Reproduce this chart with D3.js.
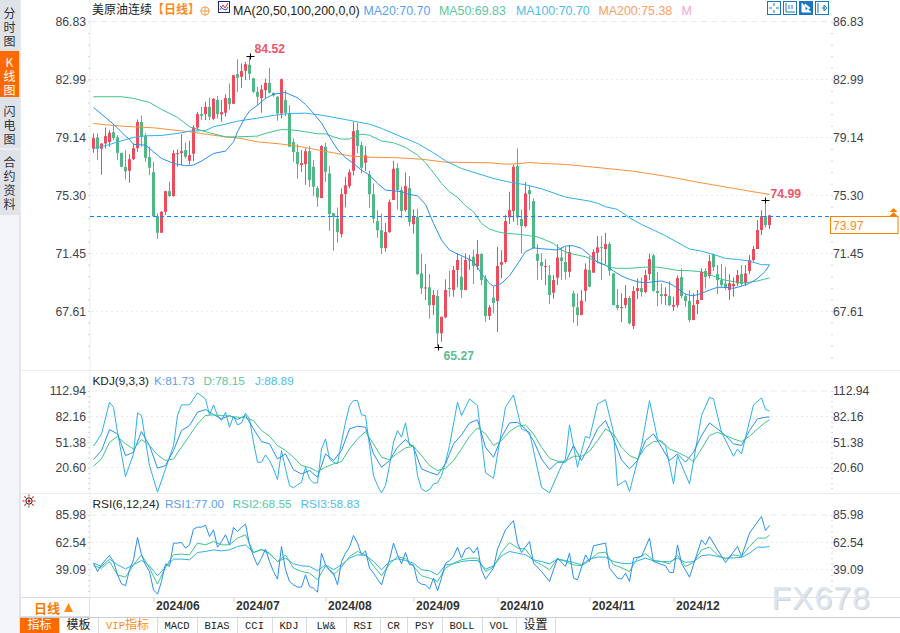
<!DOCTYPE html>
<html>
<head>
<meta charset="utf-8">
<title>美原油连续</title>
<script src="https://cdnjs.cloudflare.com/ajax/libs/d3/7.8.5/d3.min.js"></script>
<style>
body { margin: 0; background: #fff; }
svg { display: block; }
text { font-family: "Liberation Sans", Arial, sans-serif; }
.cjk { font-family: "Noto Sans CJK SC", sans-serif; }
.mono { font-family: "Liberation Mono", monospace; }
</style>
</head>
<body>
<svg id="chart" width="900" height="633"></svg>
<script>
var openVals = [78.39,79.14,78.39,78.74,78.83,79.49,79.14,78.12,77.19,76.93,77.70,78.43,80.16,79.23,77.84,76.84,73.92,72.82,74.21,75.58,75.25,78.06,78.10,78.30,77.59,78.06,79.80,80.69,80.69,81.17,80.38,81.62,80.66,80.78,81.75,81.37,83.34,83.16,83.56,83.96,83.07,82.17,81.75,82.28,82.76,82.10,81.84,80.73,81.62,80.73,78.83,78.17,77.31,77.37,78.23,77.20,75.78,75.12,78.52,76.75,74.12,73.75,72.73,75.38,75.91,76.93,79.63,78.63,77.46,76.66,75.38,73.59,72.99,71.80,72.86,74.99,77.11,75.65,74.32,75.78,73.39,73.88,70.12,69.15,69.20,68.02,68.62,66.15,67.21,69.15,69.02,70.35,69.90,69.02,71.01,71.23,70.61,71.41,69.79,67.30,68.51,68.29,70.70,70.88,73.84,74.26,77.24,73.73,73.26,75.65,74.92,71.41,70.88,70.57,70.01,68.84,69.84,71.18,70.88,70.23,68.80,67.87,67.36,68.97,70.35,70.17,71.49,71.87,71.74,72.07,70.12,68.02,67.85,68.02,68.49,66.63,68.95,69.15,68.89,70.08,71.32,68.95,68.75,68.62,68.62,67.91,68.02,69.88,68.62,68.29,67.03,68.09,68.36,70.28,69.95,71.38,70.08,69.68,69.46,69.02,69.28,69.46,70.08,69.46,70.28,71.01,71.74,73.00,73.92,73.33];
var highVals = [79.41,79.41,78.74,79.80,79.63,80.02,79.29,78.12,78.30,78.03,78.74,80.33,80.60,79.41,78.52,77.53,74.10,74.26,75.60,76.20,78.30,78.34,79.36,78.81,78.92,79.96,80.84,81.17,81.50,81.77,81.75,81.88,81.62,82.01,82.72,83.27,84.33,84.05,84.16,84.52,83.07,82.50,82.61,83.05,83.76,82.10,81.88,83.05,82.28,81.28,79.07,78.70,78.30,78.41,78.57,77.64,75.91,78.63,78.79,77.24,74.12,74.50,75.76,76.53,77.02,80.18,80.11,78.85,78.57,76.93,76.09,74.32,74.10,73.48,75.03,77.59,77.42,75.87,76.82,76.58,74.37,74.41,71.41,70.74,70.08,69.02,69.02,67.25,69.73,70.30,70.61,71.45,71.23,71.45,71.34,71.72,72.33,71.45,70.01,68.02,69.28,71.89,71.67,74.01,75.54,77.35,78.41,74.37,76.18,75.91,75.10,72.05,71.45,71.05,70.68,70.01,72.05,71.85,71.89,72.02,68.97,68.80,69.02,70.79,71.27,71.72,72.60,72.60,72.82,72.20,70.12,69.09,68.80,69.35,68.62,69.28,69.79,69.86,70.35,71.45,71.41,70.23,69.46,69.20,69.61,68.58,69.99,70.46,68.80,69.02,68.80,69.02,70.46,70.46,71.34,71.45,70.68,70.74,70.57,70.08,69.86,70.35,70.68,70.68,71.34,71.94,73.66,74.32,74.99,74.00];
var lowVals = [78.12,77.64,76.66,78.41,78.52,78.96,77.64,77.19,76.36,76.13,77.64,78.19,78.52,77.53,76.64,73.92,72.42,72.82,73.99,75.21,75.21,77.19,77.31,77.75,77.35,77.57,79.63,80.29,80.29,80.29,80.29,80.40,80.18,80.51,80.98,81.37,82.17,82.43,82.94,82.94,82.10,81.28,80.78,81.73,82.06,81.84,80.25,80.40,80.55,78.52,77.53,76.40,76.86,76.00,75.87,75.27,74.54,75.12,76.20,72.95,71.63,72.16,72.51,74.50,75.78,76.62,78.08,76.75,76.93,74.45,73.44,72.49,71.41,71.56,72.82,74.99,74.37,73.79,74.21,73.26,72.77,70.01,68.75,68.35,67.12,67.36,65.27,65.59,67.16,68.58,68.58,69.20,68.49,69.02,70.35,69.42,70.35,69.35,66.90,67.03,67.47,66.23,69.81,70.79,73.39,73.55,73.33,71.45,73.17,74.32,71.78,69.68,69.68,69.35,68.09,68.44,69.35,69.68,69.73,69.86,66.85,66.63,67.36,68.25,69.20,70.17,70.79,69.68,70.74,69.95,68.02,67.69,66.90,67.80,66.74,66.43,68.42,68.58,68.80,69.68,68.91,67.96,68.07,68.02,67.96,67.63,67.85,68.47,67.91,66.90,67.03,67.43,68.36,69.11,69.79,70.28,68.75,69.20,69.02,68.36,68.58,69.28,69.28,69.28,70.08,70.90,71.74,72.67,73.17,73.06];
var closeVals = [79.10,78.39,78.74,79.23,79.45,79.10,78.12,77.19,76.89,77.70,78.43,80.16,79.18,77.79,77.13,73.92,72.82,74.21,75.58,75.25,78.10,78.10,78.23,77.86,77.97,79.80,80.69,80.58,81.17,80.51,81.70,80.69,80.82,81.75,81.35,83.27,83.10,83.54,84.00,83.36,82.17,81.84,82.32,82.76,82.10,81.92,80.73,83.00,80.78,78.52,78.17,77.37,77.44,78.23,76.31,75.87,75.16,78.57,76.86,74.06,73.84,72.86,75.38,75.96,76.84,79.56,78.57,77.13,77.95,75.38,73.75,72.99,71.80,72.86,74.85,77.06,75.65,74.26,75.91,73.53,73.90,70.08,69.13,69.19,68.02,68.69,66.15,67.25,69.02,69.11,70.35,71.01,69.02,71.01,71.05,70.61,71.41,69.68,67.30,67.87,68.16,70.61,70.88,73.59,74.32,77.20,73.84,73.26,75.43,75.38,71.78,70.96,70.61,70.61,68.69,69.68,71.18,70.94,70.23,71.54,67.91,67.36,68.31,70.39,69.24,71.54,71.85,71.83,72.07,70.30,68.02,67.83,67.89,68.49,66.81,68.95,69.15,68.89,70.01,71.07,68.97,68.82,68.62,68.75,68.02,68.02,69.81,68.62,68.29,67.03,68.02,68.36,70.21,69.88,70.94,70.54,69.68,69.35,69.15,69.48,69.42,70.01,69.42,70.12,71.01,71.74,73.00,73.92,73.33,73.97];

var ma20Idx = [0,5,8,9,10,13,15,17,20,23,25,27,30,33,35,36,38,39,41,43,45,48,51,53,55,57,59,61,63,65,67,69,71,73,75,77,79,81,83,85,87,89,91,93,95,97,99,100,102,104,106,108,110,112,114,116,118,120,122,124,126,128,130,132,134,136,138,140,142,144,146,148,150,152,154,156,158,160,162,164,166,168,169];
var ma20Vals = [81.13,80.02,79.23,79.01,78.68,78.63,78.19,77.75,77.42,77.26,77.31,77.57,78.08,78.23,78.85,79.52,80.51,80.89,81.28,81.73,82.01,82.12,81.77,81.33,80.73,80.10,79.18,78.34,77.79,77.42,76.97,76.64,76.09,75.65,75.60,75.54,75.36,75.27,74.70,73.44,72.33,71.67,71.41,71.18,70.90,70.12,69.46,69.28,69.46,69.97,70.74,71.56,71.82,71.76,71.72,71.67,71.94,71.96,71.78,71.34,70.85,70.68,70.28,69.95,69.73,69.57,69.50,69.57,69.62,69.46,69.15,68.73,68.64,68.80,69.02,69.20,69.20,69.13,69.28,69.46,69.79,70.28,70.70];
var ma50Idx = [0,7,10,14,17,21,24,27,29,33,36,41,43,47,50,53,56,58,60,62,64,65,67,69,72,75,78,81,83,85,87,89,91,93,95,97,99,101,103,106,109,111,113,115,117,119,121,123,125,127,129,131,134,137,140,143,146,149,152,155,157,160,163,166,169];
var ma50Vals = [81.84,81.84,81.73,81.46,81.00,80.47,79.85,79.60,79.45,79.18,79.18,79.23,79.41,79.67,79.63,79.52,79.38,79.38,79.18,79.03,79.03,79.18,79.36,79.29,78.90,78.79,78.48,77.97,77.46,76.80,76.09,75.54,75.16,74.61,74.21,73.44,73.06,72.89,72.77,72.73,72.62,72.55,72.33,72.11,71.67,71.45,71.34,71.23,71.01,70.79,70.52,70.46,70.46,70.52,70.57,70.46,70.32,70.30,70.23,69.95,69.73,69.57,69.50,69.62,69.83];
var ma100Idx = [0,3,7,10,13,17,22,24,28,30,33,36,41,45,49,53,57,60,63,65,69,72,76,81,85,88,92,96,100,104,108,112,118,124,126,128,131,134,137,140,143,146,149,152,155,158,161,164,167,169];
var ma100Vals = [78.41,78.59,78.92,79.14,79.25,79.27,79.45,79.56,79.60,79.85,80.02,80.22,80.42,80.60,80.73,80.75,80.62,80.47,80.33,80.22,80.02,79.74,79.29,78.74,78.12,77.59,77.08,76.75,76.42,76.18,76.00,75.74,75.18,74.92,74.78,74.54,74.37,73.81,73.37,73.00,72.62,72.18,71.74,71.60,71.38,71.12,71.05,70.94,70.70,70.70];
var ma200Idx = [0,3,8,15,20,24,28,33,37,41,47,52,57,60,64,68,76,82,88,99,103,106,109,112,118,127,135,143,152,160,169];
var ma200Vals = [80.07,79.98,79.87,79.78,79.63,79.52,79.36,79.18,79.07,78.85,78.70,78.52,78.26,78.12,77.92,77.84,77.79,77.70,77.50,77.46,77.37,77.39,77.48,77.42,77.35,77.12,76.90,76.57,76.13,75.76,75.36];

// k, d and the slower rsi lines are read every second candle
var oscIdx = d3.range(0, 170, 2).concat([169]);
var kVals = [30.4,41.2,66.5,61.3,35.2,39.2,64.1,47.3,20,23.2,41.2,65.3,71.3,87.4,90.6,84.6,79.4,83.4,78.6,83.4,67.3,52.1,49.3,31.2,37.2,18,13.1,17.2,9.1,37.2,29.2,41.2,67.3,70.5,69.3,37.2,21.2,29.2,45.3,54.5,45.3,19.2,15.1,11.9,25.2,49.3,60.1,74.5,78.2,45.3,33.2,57.3,74.5,75.3,67.3,53.3,31.2,18.4,27.2,27.2,47.3,29.2,47.3,67.3,77.3,55.3,30,19.2,29.2,53.3,61.3,45.3,29.2,37.2,27.2,39.2,59.3,74.5,67.3,59.3,49.3,47.3,65.3,79.4,81.4,81.73];
var dVals = [22.4,31.2,51.3,58.1,49.3,43.2,54.5,47.3,36,29.2,31.2,45.3,59.3,73.3,83.4,84.2,83.4,82.6,81.4,80.6,77.3,65.3,58.5,47.3,41.2,33.2,23.2,20.8,15.9,21.2,25.2,28,43.2,55.3,64.1,49.3,33.2,30.4,38,44.4,46.4,35.2,23.2,17.2,20,29.2,43.2,58.5,68.5,61.3,47.3,53.3,64.1,70.5,72.1,61.3,45.3,32,28.4,28.4,34.4,34.4,40.4,53.3,67.3,61.3,45.3,35.2,31.2,45.3,52.1,52.9,43.2,39.2,34.4,28,43.2,59.3,63.3,59.3,55.3,52.1,58.5,67.3,75.3,78.15];
var rsi2Vals = [42.1,40.1,45.8,34.3,32.3,43,51.6,40.1,26.3,41,51.6,52.2,51.6,61.7,60.2,63.1,60.2,60.2,66,68.9,53.6,56.5,53,45.8,51.6,40.1,37.2,35.8,30,42.1,34.3,41,50.2,54.5,51.6,42.1,33.5,43.8,50.2,48.2,41.6,33.5,31.5,28.6,40.1,44.4,47.3,48.7,48.7,37.2,41,53.9,62.2,57.4,56.5,46.7,43,38.7,48.2,45.8,43,42.1,46.7,53,53.9,43,40.4,37.2,48.7,52.5,46.7,45.8,43.8,51,41.6,45,55.9,58.2,51.6,47.9,51.6,50.2,58.8,66,66,68.55];
var rsi3Vals = [44.4,41.6,47.9,43,39.5,43,46.7,42.1,33.5,41,47.9,47.9,47.3,53.6,54.5,55.9,55,55.9,58.8,60.2,53.6,55.9,52.5,45.8,48.7,43.8,42.1,41.6,37.8,43,38.7,43,48.7,51.6,51,45.8,38.7,45.8,48.2,46.7,44.4,38.7,37.8,34.3,43,43.8,45.8,46.7,46.7,39.2,42.1,50.7,54.5,53,51.6,47.3,45.8,43.8,47.9,46.7,45,43,47.9,49.6,49.6,45.8,44.4,43.8,46.4,48.7,46.4,45.8,45.6,48.7,45,45.8,50.7,51.6,50.2,48.7,49,49.3,53,58.2,58.2,58.83];

// the jagged lines keep their own candle numbers
var jIdx = [0,2,4,5,6,8,10,11,12,14,16,18,20,21,22,24,26,28,29,30,31,32,33,34,35,36,37,38,39,40,41,42,43,44,45,46,47,48,49,50,51,52,53,54,55,56,57,58,59,60,61,62,63,64,65,66,67,68,69,70,71,72,73,74,75,76,77,78,79,80,81,82,83,84,85,86,87,88,89,91,92,94,96,98,100,103,105,107,109,112,114,117,118,119,121,123,124,126,128,130,131,133,134,137,139,141,143,145,146,149,152,154,155,157,160,161,162,165,167,168,169];
var jVals = [46.5,61.3,99.4,93.4,63.3,9.9,37.2,86.6,83.4,23.2,-8.9,19.2,47.3,83.4,96.2,96.2,110.7,103.4,84.2,96.2,83.4,77.3,87.4,69.3,82.6,72.1,74.5,86.2,79.4,51.3,27.2,27.2,36,29.2,19.2,6.3,41.2,19.2,-0.9,-3.7,-0.1,3.1,21.2,7.1,2.3,2.3,43.2,55.3,31.2,27.2,25.2,51.3,75.3,95.4,101.4,101.4,84.2,83.4,47.3,11.1,-0.9,-9.7,-0.9,23.2,51.3,65.3,57.3,74.5,47.3,47.3,11.1,-4.9,-8.1,-5.7,1.1,2.3,11.1,27.2,47.3,99.4,83.4,103.4,95.4,14.3,7.9,93.4,108.2,67.3,63.3,-2.9,-9.7,23.2,31.2,72.1,21.2,58.5,56.1,97.4,102.6,63.3,-0.9,5.1,-8.1,47.3,101.4,55.3,47.3,1.1,35.2,1.1,83.4,105.4,103.4,63.3,34.4,43.2,37.2,96.2,104.6,90.6,88.89];
var rsi1Idx = d3.range(0, 99).concat([100,101,103,105,106,107,109,110,112,114,116,118,119,120,121,123,124,125,128,129,131,132,133,134,135,137,139,140,143,144,145,146,147,149,152,153,154,156,158,161,162,164,167,168,169]);
var rsi1Vals = [44.4,37.2,43,47.3,51,45.8,34.3,26.6,24.9,38.7,47.3,66.6,51.6,43,37.2,21.4,17.6,28.6,43.8,41.6,61.7,61.7,62.2,57.4,60.2,73.8,75.5,75.5,77.2,67.4,73.2,58.2,63.1,68.9,60.2,75.2,71.7,75.5,78.1,60.2,50.2,42.4,48.7,56.5,45.8,37.2,30.6,58.8,38.7,28.6,25.7,23.7,23.7,34.3,24.3,22.8,19.4,53,43,38.7,35.8,25.7,45.8,53,58.2,68.3,61.7,51.6,55,40.1,35.8,30.6,25.7,37.2,47.3,61.7,51.6,43.8,53.6,43,43,28.6,26.3,25.7,22,31.5,20.5,31.5,44.4,46.4,50.2,58.2,48.7,56.5,57.9,53,58.2,38.7,30.6,40.1,56.5,73.2,81.2,61.7,53.6,63.1,44.4,37.2,28.6,48.7,41.6,53,31.5,30,51.6,45.8,59.4,61.7,40.1,31.5,30.6,35.8,28.6,48.7,50.2,66,45.8,42.1,36.4,36.4,60.2,44.4,32.3,64.6,60.2,67.4,55.9,45,58.8,50.2,70.3,84.7,72.6,77];

var priceTicks = [86.83, 82.99, 79.14, 75.30, 71.45, 67.61];
var kdjTicks = [112.94, 82.16, 51.38, 20.60];
var rsiTicks = [85.98, 62.54, 39.09];
var monthIdx = [15, 35, 58, 80, 101, 124, 145];
var monthLabels = ["2024/06", "2024/07", "2024/08", "2024/09", "2024/10", "2024/11", "2024/12"];

var tabNames = ["指标", "模板", "VIP指标", "MACD", "BIAS", "CCI", "KDJ", "LW&", "RSI", "CR", "PSY", "BOLL", "VOL", "设置"];
var tabEdges = [20, 59, 98, 157, 197, 237, 272, 306, 346, 380, 407, 442, 482, 516, 555];

var upColor = "#ee4b5e", downColor = "#4fb886";
var blue = "#2a8ff0", green = "#3fc48b", sky = "#2fb0ea", orange = "#f7913c";
var lastClose = closeVals[closeVals.length - 1];

var svg = d3.select("#chart");

var x = d3.scaleLinear().domain([0, 169]).range([93.5, 769.5]);
var yPrice = d3.scaleLinear().domain([86.83, 67.61]).range([21.5, 311.3]);
var yKdj = d3.scaleLinear().domain([112.94, 20.60]).range([391, 467.7]);
var yRsi = d3.scaleLinear().domain([85.98, 39.09]).range([515, 569.3]);

// chrome: side bar, panel lines
svg.append("rect").attr("x", 0).attr("y", 0).attr("width", 20).attr("height", 633).attr("fill", "#f4f5f8");
svg.append("rect").attr("x", 0).attr("y", 0).attr("width", 19).attr("height", 215).attr("fill", "#e0e2ea");
svg.append("rect").attr("x", 0).attr("y", 51).attr("width", 19).attr("height", 46).attr("fill", "#ff6a00");
svg.append("rect").attr("x", 0).attr("y", 148.5).attr("width", 19).attr("height", 1).attr("fill", "#f5f6f8");
svg.append("rect").attr("x", 19.5).attr("y", 0).attr("width", 1).attr("height", 633).attr("fill", "#cfd3da");
svg.append("rect").attr("x", 89.5).attr("y", 0).attr("width", 1).attr("height", 597).attr("fill", "#eceef1");
[370, 493].forEach(function(yy) {
    svg.append("rect").attr("x", 20).attr("y", yy).attr("width", 880).attr("height", 1).attr("fill", "#e8ebef");
});

var sideTabs = ["分时图", "K线图", "闪电图", "合约资料"];
var sideTops = [18, 67, 116, 167];
sideTabs.forEach(function(name, t) {
    var label = svg.append("text")
        .attr("class", "cjk")
        .attr("font-size", 12)
        .attr("text-anchor", "middle")
        .attr("fill", t == 1 ? "#fff" : "#333");
    label.selectAll("tspan").data(name.split("")).enter().append("tspan")
        .attr("x", 9.5)
        .attr("y", function(d, i) { return sideTops[t] + i * 14; })
        .text(function(d) { return d; });
});

function drawAxis(scale, ticks) {
    var minorStep = (ticks[0] - ticks[1]) / 5;
    var y0 = scale.domain()[0];
    var bottom = scale.invert(ticks === priceTicks ? 368 : (ticks === kdjTicks ? 490 : 594));
    var minors = d3.range(y0, bottom, -minorStep);

    [[90, d3.axisLeft], [831, d3.axisRight]].forEach(function(a) {
        var g = svg.append("g").attr("transform", "translate(" + a[0] + ",0)");
        g.call(a[1](scale).tickValues(minors).tickSize(2).tickFormat(""));
        g.select(".domain").remove();
        g.selectAll("line").attr("stroke", "#d3d6db");
    });

    var grid = svg.append("g");
    grid.selectAll("line").data(ticks).enter().append("line")
        .attr("x1", 91).attr("x2", 830)
        .attr("y1", scale).attr("y2", scale)
        .attr("stroke", function(d, i) { return i == 0 ? "#eaeaea" : "#e8e8e8"; })
        .attr("stroke-dasharray", function(d, i) { return i == 0 ? "6,4" : "2,3"; });

    var left = svg.append("g").attr("transform", "translate(90,0)")
        .call(d3.axisLeft(scale).tickValues(ticks).tickSize(0).tickPadding(4).tickFormat(d3.format(".2f")));
    var right = svg.append("g").attr("transform", "translate(831,0)")
        .call(d3.axisRight(scale).tickValues(ticks).tickSize(0).tickPadding(2).tickFormat(d3.format(".2f")));
    [left, right].forEach(function(g) {
        g.select(".domain").remove();
        g.selectAll("text").attr("font-size", 12.2).attr("fill", "#3d424c")
            .style("font-family", "'Liberation Sans', Arial, sans-serif");
    });
}

drawAxis(yPrice, priceTicks);
drawAxis(yKdj, kdjTicks);
drawAxis(yRsi, rsiTicks);

// candles
var candleData = openVals.map(function(o, i) {
    return {i: i, open: o, high: highVals[i], low: lowVals[i], close: closeVals[i]};
});
var candles = svg.append("g");
candles.selectAll(".wick").data(candleData).enter().append("rect")
    .attr("class", "wick")
    .attr("x", function(d) { return x(d.i) - 0.5; })
    .attr("width", 1)
    .attr("y", function(d) { return yPrice(d.high); })
    .attr("height", function(d) { return yPrice(d.low) - yPrice(d.high); })
    .attr("fill", function(d) { return d.close >= d.open ? upColor : downColor; });
candles.selectAll(".body").data(candleData).enter().append("rect")
    .attr("class", "body")
    .attr("x", function(d) { return x(d.i) - 1.5; })
    .attr("width", 3)
    .attr("y", function(d) { return yPrice(Math.max(d.open, d.close)); })
    .attr("height", function(d) { return Math.max(1, Math.abs(yPrice(d.open) - yPrice(d.close))); })
    .attr("fill", function(d) { return d.close >= d.open ? upColor : downColor; });

function drawLine(idx, vals, scale, color) {
    var line = d3.line()
        .x(function(d, k) { return x(idx[k]); })
        .y(function(d) { return scale(d); });
    svg.append("path")
        .datum(vals)
        .attr("d", line)
        .attr("fill", "none")
        .attr("stroke", color)
        .attr("stroke-width", 1);
}

drawLine(ma200Idx, ma200Vals, yPrice, orange);
drawLine(ma100Idx, ma100Vals, yPrice, sky);
drawLine(ma50Idx, ma50Vals, yPrice, green);
drawLine(ma20Idx, ma20Vals, yPrice, blue);

drawLine(jIdx, jVals, yKdj, sky);
drawLine(oscIdx, kVals, yKdj, blue);
drawLine(oscIdx, dVals, yKdj, green);

drawLine(oscIdx, rsi3Vals, yRsi, sky);
drawLine(oscIdx, rsi2Vals, yRsi, green);
drawLine(rsi1Idx, rsi1Vals, yRsi, blue);

// last price dashed line and box
var lastY = Math.round(yPrice(lastClose)) + 1.5;
svg.append("line")
    .attr("x1", 90).attr("x2", 831)
    .attr("y1", lastY).attr("y2", lastY)
    .style("stroke", "#0a84ff").style("stroke-width", 1).style("stroke-dasharray", "4,3");
svg.append("rect").attr("x", 830.5).attr("y", lastY).attr("width", 67.5).attr("height", 17)
    .attr("fill", "#fff").attr("stroke", "#ff7f00");
svg.append("text").attr("x", 833).attr("y", lastY + 13).attr("font-size", 12.2).attr("fill", "#ff8a14").text(lastClose.toFixed(2));
svg.append("path").attr("d", "M889.5,212 L893.5,208 L897.5,212 Z M889.5,216 L893.5,212 L897.5,216 Z").attr("fill", "#ff7f00");

// high and low marks
var marks = [
    {i: 39, v: 84.52, dx: 4, dy: -4, color: "#ef5468"},
    {i: 86, v: 65.27, dx: 5, dy: 12, color: "#59bd92"},
    {i: 168, v: 74.99, dx: 5, dy: -3, color: "#ef5468"}
];
marks.forEach(function(m) {
    var mx = Math.round(x(m.i)) + 0.5, my = Math.round(yPrice(m.v)) + 0.5;
    svg.append("path").attr("d", "M" + (mx - 4) + "," + my + "H" + (mx + 4) + "M" + mx + "," + (my - 3) + "V" + (my + 3))
        .attr("stroke", "#000").attr("fill", "none");
    svg.append("text").attr("x", mx + m.dx).attr("y", my + m.dy)
        .attr("font-size", 12.2).attr("font-weight", "bold").attr("fill", m.color).text(m.v.toFixed(2));
});

// legends
function legend(items, baseline, size) {
    items.forEach(function(it) {
        svg.append("text").attr("x", it[0]).attr("y", baseline)
            .attr("font-size", size).attr("fill", it[2]).text(it[1]);
    });
}
svg.append("text").attr("class", "cjk").attr("x", 92).attr("y", 14).attr("font-size", 12).attr("fill", "#222").text("美原油连续");
svg.append("text").attr("class", "cjk").attr("x", 152).attr("y", 14).attr("font-size", 12).attr("font-weight", "bold").attr("fill", "#ff8a1c").text("【日线】");
svg.append("circle").attr("cx", 205).attr("cy", 11).attr("r", 4).attr("fill", "none").attr("stroke", "#f7a24c");
svg.append("path").attr("d", "M200,11H210M205,6V16").attr("stroke", "#f7a24c").attr("fill", "none");
svg.append("rect").attr("x", 218.5).attr("y", 1.5).attr("width", 11).attr("height", 11).attr("fill", "#fff").attr("stroke", "#1a237e");
svg.append("path").attr("d", "M220,10L223,5L225,8L228,3").attr("stroke", "#e53935").attr("fill", "none");
svg.append("path").attr("d", "M220,6L223,9L226,10L228,7").attr("stroke", "#1e5bd8").attr("fill", "none");

legend([
    [233, "MA(20,50,100,200,0,0)", "#222"],
    [363.5, "MA20:70.70", "#5b9ff2"],
    [439, "MA50:69.83", "#5ac9a0"],
    [516, "MA100:70.70", "#4fbcf0"],
    [598.5, "MA200:75.38", "#f8a066"],
    [681.5, "M", "#f2a6dd"]
], 14.5, 12.4);
legend([
    [92.5, "KDJ(9,3,3)", "#222"],
    [154, "K:81.73", "#5b9ff2"],
    [203.5, "D:78.15", "#5ac9a0"],
    [255, "J:88.89", "#4fbcf0"]
], 384.5, 11.8);
legend([
    [92.5, "RSI(6,12,24)", "#222"],
    [165, "RSI1:77.00", "#5b9ff2"],
    [232.5, "RSI2:68.55", "#5ac9a0"],
    [300.5, "RSI3:58.83", "#4fbcf0"]
], 507.5, 11.8);

// toolbar icons
[767, 783, 799, 815].forEach(function(ix, n) {
    svg.append("rect").attr("x", ix + 0.5).attr("y", 1.5).attr("width", 13).attr("height", 13)
        .attr("fill", n == 2 ? "#1976c4" : "#fff").attr("stroke", "#1976c4");
    var c = n == 2 ? "#fff" : "#1976c4";
    var px = ix + 7, py = 8;
    var shapes = [
        "M" + (px - 5) + "," + py + "H" + (px - 2) + "M" + (px + 2) + "," + py + "H" + (px + 5) + "M" + px + "," + (py - 5) + "V" + (py - 2) + "M" + px + "," + (py + 2) + "V" + (py + 5),
        "M" + (px - 4) + "," + (py - 5) + "V" + (py + 4) + "H" + (px + 5) + "M" + (px - 1) + "," + (py - 3) + "V" + (py + 1) + "M" + (px + 2) + "," + (py - 3) + "V" + (py + 1),
        "M" + (px - 4) + "," + (py - 5) + "V" + (py + 4) + "H" + (px + 5) + "M" + (px - 1) + "," + (py - 4) + "L" + (px + 4) + "," + py + "L" + (px - 1) + "," + (py + 3) + "Z",
        "M" + (px - 4) + "," + (py - 5) + "V" + (py + 5) + "M" + px + "," + py + "H" + (px + 3) + "M" + (px + 2) + "," + (py - 3) + "L" + (px + 5) + "," + py + "L" + (px + 2) + "," + (py + 3) + "Z"
    ];
    svg.append("path").attr("d", shapes[n]).attr("stroke", c).attr("fill", n == 2 ? c : "none");
});

// date axis
svg.append("rect").attr("x", 20).attr("y", 597).attr("width", 880).attr("height", 1).attr("fill", "#e1e4e9");
var dateAxis = svg.append("g").attr("transform", "translate(0,597.5)")
    .call(d3.axisBottom(x).tickValues(monthIdx).tickSize(4).tickPadding(0).tickFormat(function(d, i) { return monthLabels[i]; }));
dateAxis.select(".domain").remove();
dateAxis.selectAll("line").attr("stroke", "#c9cdd4");
dateAxis.selectAll("text")
    .attr("text-anchor", "start").attr("x", 2).attr("y", 12.5).attr("dy", 0)
    .attr("font-size", 12.1).attr("font-weight", "bold").attr("fill", "#333")
    .style("font-family", "'Liberation Sans', Arial, sans-serif");

svg.append("rect").attr("x", 20.5).attr("y", 597.5).attr("width", 69).attr("height", 19).attr("fill", "#fff").attr("stroke", "#dcdfe4");
svg.append("text").attr("class", "cjk").attr("x", 34).attr("y", 613).attr("font-size", 13).attr("font-weight", "bold").attr("fill", "#ff7a00").text("日线");
svg.append("path").attr("d", "M64,612L68.5,603L73,612Z").attr("fill", "#ff8a1c");

// bottom tabs
svg.append("rect").attr("x", 20).attr("y", 617).attr("width", 880).attr("height", 1).attr("fill", "#c9ced6");
svg.append("rect").attr("x", 20).attr("y", 618).attr("width", 39).attr("height", 15).attr("fill", "#ff6a00");
svg.selectAll(".tabsep").data(tabEdges.slice(1)).enter().append("rect")
    .attr("class", "tabsep")
    .attr("x", function(d) { return d; }).attr("y", 618).attr("width", 1).attr("height", 15).attr("fill", "#d8dbe0");
tabNames.forEach(function(name, i) {
    var mid = (tabEdges[i] + tabEdges[i + 1]) / 2;
    var color = i == 0 ? "#fff" : (i == 2 ? "#ff8a1c" : "#222");
    var latin = /^[A-Z&]+$/.test(name);
    if (name == "VIP指标") {
        var g = svg.append("text").attr("x", mid).attr("y", 629).attr("text-anchor", "middle").attr("fill", color);
        g.append("tspan").attr("class", "mono").attr("font-size", 10.5).text("VIP");
        g.append("tspan").attr("class", "cjk").attr("font-size", 12).text("指标");
        return;
    }
    svg.append("text").attr("class", latin ? "mono" : "cjk")
        .attr("x", mid).attr("y", 629).attr("text-anchor", "middle")
        .attr("font-size", latin ? 10.5 : 12).attr("fill", color).text(name);
});

// indicator settings mark
var sun = svg.append("g").attr("transform", "translate(29,501)");
sun.selectAll("line").data(d3.range(0, 360, 45)).enter().append("line")
    .attr("x1", 4.5).attr("x2", 6.5).attr("y1", 0).attr("y2", 0)
    .attr("transform", function(d) { return "rotate(" + d + ")"; })
    .attr("stroke", "#e01010");
sun.append("circle").attr("r", 3.2).attr("fill", "#fff").attr("stroke", "#111");
sun.append("circle").attr("r", 1.5).attr("fill", "#e01010");

// watermark
svg.append("text").attr("x", 772.5).attr("y", 610).attr("font-size", 32).attr("letter-spacing", 1)
    .attr("fill", "#c9bdb4").attr("opacity", 0.7).text("FX678");
svg.append("text").attr("x", 771.5).attr("y", 609).attr("font-size", 32).attr("letter-spacing", 1)
    .attr("fill", "#dbe6f3").text("FX678");
</script>
</body>
</html>
